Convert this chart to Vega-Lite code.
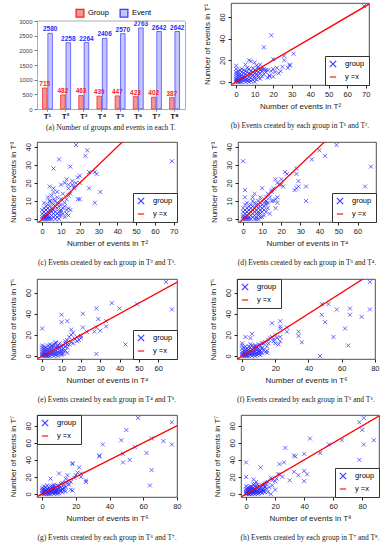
{
"$schema":"https://vega.github.io/schema/vega-lite/v6.json",
"padding":{"left":8,"top":2,"right":2,"bottom":0},
"config":{
 "font":"Liberation Sans",
 "view":{"stroke":"#222","strokeWidth":0.8},
 "axis":{"grid":false,"domain":false,"tickColor":"#222","tickSize":3,"labelFontSize":7.5,"labelColor":"#222","titleFontSize":8,"titleFontWeight":"normal","titleColor":"#222","labelPadding":2,"titlePadding":5,"labelOverlap":false,"labelFlush":false},
 "axisY":{"titlePadding":7},
 "title":{"font":"Liberation Serif","fontSize":7.5,"fontWeight":"normal","orient":"bottom","offset":11,"color":"#222"},
 "legend":{"orient":"bottom-right","offset":0,"strokeColor":"#333","fillColor":"white","padding":4,"labelFontSize":7.5,"symbolSize":40,"rowPadding":3,"symbolStrokeWidth":1.3,"labelOffset":8}
},
"resolve":{"scale":{"color":"independent","shape":"independent","stroke":"independent"},"legend":{"color":"independent","shape":"independent","stroke":"independent"}},
"spacing":8,
"datasets":{
 "diag":[{"x":-10,"y":-10},{"x":120,"y":120}],
 "top":[{"v":3000}],
 "bars":[{"t":"T¹","k":"Group","v":715},{"t":"T¹","k":"Event","v":2580},{"t":"T²","k":"Group","v":482},{"t":"T²","k":"Event","v":2258},{"t":"T³","k":"Group","v":463},{"t":"T³","k":"Event","v":2264},{"t":"T⁴","k":"Group","v":439},{"t":"T⁴","k":"Event","v":2406},{"t":"T⁵","k":"Group","v":447},{"t":"T⁵","k":"Event","v":2570},{"t":"T⁶","k":"Group","v":423},{"t":"T⁶","k":"Event","v":2763},{"t":"T⁷","k":"Group","v":402},{"t":"T⁷","k":"Event","v":2642},{"t":"T⁸","k":"Group","v":387},{"t":"T⁸","k":"Event","v":2642}],
 "b":[{"x":0,"y":0},{"x":0,"y":1},{"x":0,"y":2},{"x":0,"y":3},{"x":0,"y":5},{"x":0,"y":7},{"x":0,"y":9},{"x":0,"y":12},{"x":0,"y":15},{"x":1,"y":0},{"x":1,"y":1},{"x":1,"y":2},{"x":1,"y":4},{"x":1,"y":6},{"x":1,"y":8},{"x":1,"y":10},{"x":2,"y":0},{"x":2,"y":1},{"x":2,"y":3},{"x":2,"y":5},{"x":2,"y":7},{"x":2,"y":11},{"x":3,"y":0},{"x":3,"y":2},{"x":3,"y":4},{"x":3,"y":6},{"x":3,"y":9},{"x":3,"y":12},{"x":4,"y":1},{"x":4,"y":3},{"x":4,"y":5},{"x":4,"y":8},{"x":4,"y":11},{"x":5,"y":0},{"x":5,"y":2},{"x":5,"y":4},{"x":5,"y":7},{"x":5,"y":10},{"x":5,"y":16},{"x":6,"y":1},{"x":6,"y":3},{"x":6,"y":6},{"x":6,"y":9},{"x":6,"y":13},{"x":7,"y":0},{"x":7,"y":2},{"x":7,"y":5},{"x":7,"y":8},{"x":7,"y":12},{"x":7,"y":20},{"x":8,"y":1},{"x":8,"y":4},{"x":8,"y":7},{"x":8,"y":10},{"x":8,"y":19},{"x":9,"y":2},{"x":9,"y":6},{"x":9,"y":9},{"x":9,"y":13},{"x":10,"y":0},{"x":10,"y":3},{"x":10,"y":5},{"x":10,"y":8},{"x":10,"y":11},{"x":11,"y":2},{"x":11,"y":7},{"x":11,"y":10},{"x":11,"y":15},{"x":12,"y":4},{"x":12,"y":6},{"x":12,"y":9},{"x":12,"y":12},{"x":13,"y":3},{"x":13,"y":8},{"x":13,"y":11},{"x":14,"y":5},{"x":14,"y":10},{"x":15,"y":7},{"x":15,"y":12},{"x":16,"y":9},{"x":17,"y":11},{"x":18,"y":6},{"x":19,"y":10},{"x":20,"y":5},{"x":69,"y":70},{"x":19,"y":43},{"x":15,"y":32},{"x":31,"y":26},{"x":20,"y":21},{"x":26,"y":24},{"x":26,"y":20},{"x":29,"y":16},{"x":29,"y":15},{"x":28,"y":13},{"x":25,"y":14},{"x":23,"y":8},{"x":18,"y":5},{"x":17,"y":4},{"x":14,"y":12},{"x":12,"y":14},{"x":10,"y":18},{"x":13,"y":16},{"x":16,"y":11},{"x":20,"y":12},{"x":22,"y":13},{"x":24,"y":10},{"x":21,"y":9}],
 "c":[{"x":0,"y":0},{"x":0,"y":1},{"x":0,"y":3},{"x":0,"y":5},{"x":1,"y":0},{"x":1,"y":1},{"x":1,"y":2},{"x":1,"y":4},{"x":1,"y":6},{"x":1,"y":9},{"x":2,"y":0},{"x":2,"y":1},{"x":2,"y":2},{"x":2,"y":3},{"x":2,"y":5},{"x":2,"y":7},{"x":3,"y":0},{"x":3,"y":1},{"x":3,"y":2},{"x":3,"y":4},{"x":3,"y":6},{"x":3,"y":8},{"x":4,"y":0},{"x":4,"y":1},{"x":4,"y":3},{"x":4,"y":5},{"x":4,"y":7},{"x":4,"y":10},{"x":5,"y":0},{"x":5,"y":2},{"x":5,"y":4},{"x":5,"y":6},{"x":5,"y":9},{"x":6,"y":1},{"x":6,"y":3},{"x":6,"y":5},{"x":6,"y":8},{"x":6,"y":11},{"x":7,"y":0},{"x":7,"y":2},{"x":7,"y":4},{"x":7,"y":7},{"x":7,"y":10},{"x":8,"y":1},{"x":8,"y":3},{"x":8,"y":6},{"x":8,"y":9},{"x":8,"y":12},{"x":9,"y":0},{"x":9,"y":4},{"x":9,"y":7},{"x":10,"y":2},{"x":10,"y":5},{"x":10,"y":8},{"x":10,"y":11},{"x":11,"y":3},{"x":11,"y":6},{"x":12,"y":1},{"x":12,"y":9},{"x":13,"y":5},{"x":13,"y":11},{"x":14,"y":2},{"x":69,"y":32},{"x":18,"y":41},{"x":24,"y":38},{"x":23,"y":35},{"x":9,"y":33},{"x":6,"y":28},{"x":15,"y":29},{"x":28,"y":26},{"x":29,"y":25},{"x":25,"y":26},{"x":31,"y":15},{"x":25,"y":17},{"x":19,"y":11},{"x":20,"y":11},{"x":28,"y":9},{"x":13,"y":22},{"x":12,"y":20},{"x":10,"y":19},{"x":6,"y":17},{"x":4,"y":18},{"x":15,"y":14},{"x":16,"y":21},{"x":14,"y":19},{"x":17,"y":18},{"x":20,"y":20},{"x":19,"y":23},{"x":14,"y":13},{"x":11,"y":14},{"x":8,"y":15},{"x":6,"y":15},{"x":5,"y":13},{"x":3,"y":12},{"x":4,"y":10},{"x":14,"y":6},{"x":15,"y":5},{"x":13,"y":3},{"x":12,"y":7},{"x":9,"y":2},{"x":10,"y":4},{"x":20,"y":24},{"x":18,"y":20},{"x":14,"y":17},{"x":16,"y":19},{"x":17,"y":17}],
 "d":[{"x":0,"y":0},{"x":0,"y":1},{"x":0,"y":2},{"x":0,"y":4},{"x":0,"y":6},{"x":1,"y":0},{"x":1,"y":1},{"x":1,"y":3},{"x":1,"y":5},{"x":1,"y":8},{"x":2,"y":0},{"x":2,"y":1},{"x":2,"y":2},{"x":2,"y":4},{"x":2,"y":6},{"x":2,"y":9},{"x":3,"y":0},{"x":3,"y":1},{"x":3,"y":3},{"x":3,"y":5},{"x":3,"y":7},{"x":4,"y":0},{"x":4,"y":2},{"x":4,"y":4},{"x":4,"y":6},{"x":4,"y":8},{"x":5,"y":1},{"x":5,"y":3},{"x":5,"y":5},{"x":5,"y":7},{"x":5,"y":10},{"x":6,"y":0},{"x":6,"y":2},{"x":6,"y":4},{"x":6,"y":6},{"x":6,"y":9},{"x":7,"y":1},{"x":7,"y":3},{"x":7,"y":5},{"x":7,"y":8},{"x":8,"y":0},{"x":8,"y":2},{"x":8,"y":4},{"x":8,"y":6},{"x":8,"y":10},{"x":9,"y":3},{"x":9,"y":5},{"x":9,"y":7},{"x":10,"y":1},{"x":10,"y":6},{"x":10,"y":8},{"x":10,"y":10},{"x":11,"y":2},{"x":11,"y":7},{"x":12,"y":4},{"x":12,"y":9},{"x":13,"y":6},{"x":14,"y":3},{"x":0,"y":32},{"x":49,"y":41},{"x":40,"y":38},{"x":43,"y":35},{"x":36,"y":33},{"x":67,"y":29},{"x":64,"y":18},{"x":33,"y":18},{"x":33,"y":10},{"x":28,"y":28},{"x":28,"y":25},{"x":29,"y":21},{"x":27,"y":16},{"x":28,"y":17},{"x":29,"y":18},{"x":22,"y":26},{"x":23,"y":25},{"x":21,"y":18},{"x":20,"y":22},{"x":17,"y":22},{"x":18,"y":20},{"x":17,"y":6},{"x":18,"y":9},{"x":15,"y":15},{"x":16,"y":17},{"x":10,"y":17},{"x":1,"y":16},{"x":1,"y":12},{"x":15,"y":16},{"x":13,"y":14},{"x":12,"y":12},{"x":11,"y":11},{"x":12,"y":10},{"x":13,"y":9},{"x":14,"y":12},{"x":16,"y":10},{"x":17,"y":11},{"x":19,"y":19},{"x":20,"y":19},{"x":18,"y":12},{"x":15,"y":10},{"x":9,"y":9},{"x":8,"y":8},{"x":9,"y":12},{"x":6,"y":14},{"x":5,"y":12},{"x":7,"y":7},{"x":11,"y":5},{"x":12,"y":8},{"x":8,"y":3},{"x":10,"y":4},{"x":9,"y":1},{"x":7,"y":0}],
 "e":[{"x":0,"y":0},{"x":0,"y":1},{"x":0,"y":2},{"x":0,"y":4},{"x":0,"y":6},{"x":0,"y":8},{"x":0,"y":10},{"x":1,"y":0},{"x":1,"y":1},{"x":1,"y":3},{"x":1,"y":5},{"x":1,"y":7},{"x":1,"y":9},{"x":2,"y":0},{"x":2,"y":1},{"x":2,"y":2},{"x":2,"y":4},{"x":2,"y":6},{"x":2,"y":8},{"x":3,"y":0},{"x":3,"y":1},{"x":3,"y":3},{"x":3,"y":5},{"x":3,"y":7},{"x":3,"y":10},{"x":4,"y":0},{"x":4,"y":2},{"x":4,"y":4},{"x":4,"y":6},{"x":4,"y":8},{"x":4,"y":11},{"x":5,"y":1},{"x":5,"y":3},{"x":5,"y":5},{"x":5,"y":7},{"x":5,"y":10},{"x":6,"y":0},{"x":6,"y":2},{"x":6,"y":4},{"x":6,"y":6},{"x":6,"y":9},{"x":7,"y":1},{"x":7,"y":3},{"x":7,"y":5},{"x":7,"y":8},{"x":7,"y":12},{"x":8,"y":0},{"x":8,"y":2},{"x":8,"y":4},{"x":8,"y":7},{"x":8,"y":9},{"x":9,"y":3},{"x":9,"y":5},{"x":9,"y":8},{"x":10,"y":1},{"x":10,"y":4},{"x":10,"y":6},{"x":11,"y":2},{"x":11,"y":7},{"x":12,"y":5},{"x":12,"y":9},{"x":13,"y":3},{"x":13,"y":11},{"x":64,"y":70},{"x":67,"y":44},{"x":49,"y":49},{"x":40,"y":45},{"x":43,"y":11},{"x":36,"y":50},{"x":33,"y":33},{"x":33,"y":28},{"x":29,"y":35},{"x":28,"y":45},{"x":28,"y":2},{"x":30,"y":24},{"x":27,"y":23},{"x":28,"y":27},{"x":21,"y":27},{"x":21,"y":40},{"x":23,"y":23},{"x":10,"y":39},{"x":10,"y":32},{"x":13,"y":33},{"x":0,"y":26},{"x":15,"y":25},{"x":15,"y":20},{"x":18,"y":18},{"x":20,"y":17},{"x":13,"y":15},{"x":12,"y":12},{"x":16,"y":22},{"x":20,"y":19},{"x":14,"y":18},{"x":17,"y":16},{"x":19,"y":15},{"x":12,"y":14},{"x":11,"y":10},{"x":10,"y":9},{"x":14,"y":11},{"x":15,"y":13},{"x":9,"y":12},{"x":8,"y":10},{"x":7,"y":13},{"x":6,"y":11},{"x":5,"y":9},{"x":10,"y":2},{"x":11,"y":5},{"x":13,"y":8},{"x":16,"y":12},{"x":18,"y":14}],
 "f":[{"x":0,"y":0},{"x":0,"y":2},{"x":0,"y":4},{"x":0,"y":7},{"x":0,"y":10},{"x":0,"y":12},{"x":1,"y":0},{"x":1,"y":1},{"x":1,"y":3},{"x":1,"y":5},{"x":1,"y":8},{"x":2,"y":0},{"x":2,"y":1},{"x":2,"y":2},{"x":2,"y":4},{"x":2,"y":6},{"x":2,"y":9},{"x":3,"y":0},{"x":3,"y":1},{"x":3,"y":3},{"x":3,"y":5},{"x":3,"y":7},{"x":4,"y":0},{"x":4,"y":2},{"x":4,"y":4},{"x":4,"y":6},{"x":4,"y":9},{"x":5,"y":1},{"x":5,"y":3},{"x":5,"y":5},{"x":5,"y":8},{"x":5,"y":11},{"x":6,"y":0},{"x":6,"y":2},{"x":6,"y":4},{"x":6,"y":6},{"x":6,"y":10},{"x":7,"y":1},{"x":7,"y":3},{"x":7,"y":5},{"x":7,"y":7},{"x":8,"y":0},{"x":8,"y":2},{"x":8,"y":4},{"x":8,"y":6},{"x":8,"y":9},{"x":9,"y":1},{"x":9,"y":3},{"x":9,"y":6},{"x":10,"y":2},{"x":10,"y":4},{"x":10,"y":7},{"x":11,"y":1},{"x":11,"y":5},{"x":12,"y":3},{"x":12,"y":8},{"x":13,"y":6},{"x":14,"y":4},{"x":77,"y":70},{"x":77,"y":44},{"x":72,"y":37},{"x":65,"y":45},{"x":65,"y":39},{"x":57,"y":44},{"x":52,"y":49},{"x":48,"y":49},{"x":48,"y":39},{"x":50,"y":32},{"x":62,"y":26},{"x":55,"y":18},{"x":64,"y":10},{"x":47,"y":0},{"x":34,"y":23},{"x":34,"y":19},{"x":36,"y":13},{"x":27,"y":27},{"x":27,"y":23},{"x":23,"y":33},{"x":23,"y":28},{"x":23,"y":26},{"x":23,"y":18},{"x":23,"y":14},{"x":22,"y":11},{"x":18,"y":31},{"x":19,"y":16},{"x":2,"y":18},{"x":5,"y":17},{"x":6,"y":21},{"x":15,"y":5},{"x":15,"y":3},{"x":20,"y":20},{"x":18,"y":18},{"x":17,"y":17},{"x":16,"y":15},{"x":14,"y":13},{"x":13,"y":12},{"x":12,"y":12},{"x":11,"y":10},{"x":10,"y":11},{"x":15,"y":9},{"x":12,"y":7},{"x":9,"y":8},{"x":8,"y":10},{"x":7,"y":9},{"x":10,"y":5},{"x":11,"y":3},{"x":16,"y":12},{"x":19,"y":14},{"x":21,"y":17},{"x":20,"y":12}],
 "g":[{"x":0,"y":0},{"x":0,"y":1},{"x":0,"y":3},{"x":0,"y":5},{"x":0,"y":7},{"x":1,"y":0},{"x":1,"y":2},{"x":1,"y":4},{"x":1,"y":6},{"x":1,"y":9},{"x":2,"y":0},{"x":2,"y":1},{"x":2,"y":3},{"x":2,"y":5},{"x":2,"y":8},{"x":3,"y":0},{"x":3,"y":2},{"x":3,"y":4},{"x":3,"y":6},{"x":3,"y":10},{"x":4,"y":0},{"x":4,"y":1},{"x":4,"y":3},{"x":4,"y":5},{"x":4,"y":7},{"x":5,"y":0},{"x":5,"y":2},{"x":5,"y":4},{"x":5,"y":6},{"x":5,"y":9},{"x":6,"y":1},{"x":6,"y":3},{"x":6,"y":5},{"x":6,"y":7},{"x":7,"y":0},{"x":7,"y":2},{"x":7,"y":4},{"x":7,"y":6},{"x":7,"y":9},{"x":8,"y":1},{"x":8,"y":3},{"x":8,"y":5},{"x":8,"y":7},{"x":9,"y":0},{"x":9,"y":2},{"x":9,"y":6},{"x":10,"y":1},{"x":10,"y":4},{"x":10,"y":7},{"x":11,"y":3},{"x":11,"y":8},{"x":12,"y":2},{"x":12,"y":5},{"x":13,"y":4},{"x":13,"y":7},{"x":14,"y":3},{"x":57,"y":89},{"x":77,"y":84},{"x":50,"y":75},{"x":47,"y":63},{"x":36,"y":58},{"x":52,"y":40},{"x":48,"y":37},{"x":62,"y":48},{"x":55,"y":55},{"x":48,"y":47},{"x":65,"y":65},{"x":72,"y":62},{"x":77,"y":58},{"x":65,"y":28},{"x":64,"y":10},{"x":34,"y":44},{"x":34,"y":45},{"x":18,"y":36},{"x":18,"y":35},{"x":22,"y":31},{"x":21,"y":25},{"x":23,"y":24},{"x":23,"y":20},{"x":26,"y":16},{"x":26,"y":14},{"x":18,"y":4},{"x":17,"y":5},{"x":14,"y":18},{"x":15,"y":22},{"x":10,"y":24},{"x":5,"y":18},{"x":20,"y":22},{"x":19,"y":19},{"x":16,"y":16},{"x":14,"y":14},{"x":12,"y":13},{"x":11,"y":12},{"x":13,"y":10},{"x":15,"y":12},{"x":10,"y":9},{"x":9,"y":10},{"x":8,"y":8},{"x":12,"y":6},{"x":11,"y":4},{"x":14,"y":8},{"x":16,"y":11},{"x":17,"y":14},{"x":7,"y":11},{"x":6,"y":9},{"x":9,"y":4},{"x":8,"y":2}],
 "h":[{"x":0,"y":0},{"x":0,"y":1},{"x":0,"y":2},{"x":0,"y":4},{"x":0,"y":6},{"x":0,"y":9},{"x":1,"y":0},{"x":1,"y":1},{"x":1,"y":3},{"x":1,"y":5},{"x":1,"y":7},{"x":2,"y":0},{"x":2,"y":2},{"x":2,"y":4},{"x":2,"y":6},{"x":2,"y":8},{"x":3,"y":0},{"x":3,"y":1},{"x":3,"y":3},{"x":3,"y":5},{"x":3,"y":9},{"x":4,"y":0},{"x":4,"y":2},{"x":4,"y":4},{"x":4,"y":6},{"x":4,"y":8},{"x":5,"y":1},{"x":5,"y":3},{"x":5,"y":5},{"x":5,"y":7},{"x":5,"y":11},{"x":6,"y":0},{"x":6,"y":2},{"x":6,"y":4},{"x":6,"y":6},{"x":6,"y":9},{"x":7,"y":1},{"x":7,"y":3},{"x":7,"y":5},{"x":7,"y":8},{"x":8,"y":0},{"x":8,"y":2},{"x":8,"y":4},{"x":8,"y":7},{"x":9,"y":1},{"x":9,"y":3},{"x":9,"y":6},{"x":10,"y":2},{"x":10,"y":5},{"x":10,"y":7},{"x":11,"y":1},{"x":11,"y":4},{"x":12,"y":3},{"x":12,"y":6},{"x":13,"y":2},{"x":13,"y":8},{"x":81,"y":89},{"x":78,"y":84},{"x":80,"y":75},{"x":88,"y":63},{"x":81,"y":58},{"x":78,"y":40},{"x":66,"y":63},{"x":57,"y":58},{"x":44,"y":65},{"x":51,"y":48},{"x":40,"y":47},{"x":33,"y":45},{"x":34,"y":44},{"x":27,"y":54},{"x":23,"y":35},{"x":26,"y":37},{"x":33,"y":26},{"x":36,"y":22},{"x":40,"y":27},{"x":42,"y":23},{"x":40,"y":15},{"x":30,"y":16},{"x":25,"y":20},{"x":23,"y":23},{"x":22,"y":23},{"x":18,"y":10},{"x":17,"y":0},{"x":20,"y":5},{"x":10,"y":31},{"x":0,"y":37},{"x":0,"y":20},{"x":5,"y":17},{"x":21,"y":18},{"x":20,"y":15},{"x":18,"y":16},{"x":17,"y":19},{"x":15,"y":14},{"x":14,"y":13},{"x":13,"y":12},{"x":12,"y":11},{"x":13,"y":9},{"x":11,"y":10},{"x":10,"y":8},{"x":14,"y":6},{"x":12,"y":4},{"x":9,"y":9},{"x":8,"y":11},{"x":7,"y":14},{"x":6,"y":12},{"x":15,"y":2},{"x":16,"y":8}]
},
"vconcat":[
 {"resolve":{"scale":{"color":"independent","shape":"independent","stroke":"independent"},"legend":{"color":"independent","shape":"independent","stroke":"independent"}},
  "spacing":16,
  "hconcat":[
  {"width":148,"height":106,"title":{"text":"(a) Number of groups and events in each T.","offset":4},
   "view":{"stroke":null},
   "resolve":{"axis":{"y":"independent"}},
   "layer":[
    {"data":{"name":"bars"},"mark":{"type":"bar","strokeWidth":0.7},
     "encoding":{"x":{"field":"t","type":"nominal","sort":null,"scale":{"paddingInner":0.45,"paddingOuter":0.3},"axis":{"title":null,"labelAngle":0,"labelFontWeight":"bold","labelFontSize":8,"tickSize":2,"labelPadding":1,"tickColor":"#777","domain":true,"domainColor":"#999","domainWidth":0.8}},
      "xOffset":{"field":"k","type":"nominal","sort":["Group","Event"],"scale":{"paddingInner":0.15}},
      "y":{"field":"v","type":"quantitative","scale":{"domain":[0,3000],"nice":false,"range":[106,18]},"axis":{"title":null,"values":[0,500,1000,1500,2000,2500,3000],"tickCount":20,"format":"d","labelFontSize":6,"labelColor":"#444","tickColor":"#777","domain":true,"domainColor":"#999","domainWidth":0.8,"titlePadding":3}},
      "color":{"field":"k","type":"nominal","scale":{"domain":["Group","Event"],"range":["#f49494","#c4c4ff"]},"legend":{"title":null,"orient":"none","legendX":38,"legendY":5,"direction":"horizontal","strokeColor":"transparent","fillColor":"transparent","symbolType":"square","symbolSize":60,"labelOffset":3,"padding":0,"columnPadding":8}},
      "stroke":{"field":"k","type":"nominal","scale":{"domain":["Group","Event"],"range":["#ee2222","#3a3aff"]},"legend":{"title":null,"orient":"none","legendX":38,"legendY":5,"direction":"horizontal","strokeColor":"transparent","fillColor":"transparent","symbolType":"square","symbolSize":60,"labelOffset":3,"padding":0,"columnPadding":8}}}},
    {"data":{"name":"bars"},"mark":{"type":"text","dy":-4,"fontSize":6.5,"fontWeight":"bold"},
     "encoding":{"x":{"field":"t","type":"nominal","sort":null},
      "xOffset":{"field":"k","type":"nominal","sort":["Group","Event"]},
      "y":{"field":"v","type":"quantitative","axis":{"orient":"right","labels":false,"ticks":false,"title":null,"domain":true,"domainColor":"#999","domainWidth":0.8}},
      "text":{"field":"v","type":"quantitative"},
      "color":{"condition":{"test":"datum.k==='Group'","value":"#ff2020"},"value":"#2a2aff"}}},
    {"data":{"name":"top"},"mark":{"type":"rule","color":"#999","strokeWidth":0.8},
     "encoding":{"y":{"field":"v","type":"quantitative","axis":null}}}
   ]},
  {"width":138,"height":82,"title":"(b) Events created by each group in T¹ and T².",
   "layer":[
    {"data":{"name":"b"},"mark":{"type":"point","filled":false,"size":16,"strokeWidth":0.8,"opacity":0.85,"clip":true},
     "encoding":{"x":{"field":"x","type":"quantitative","scale":{"domain":[-2.76,71.76],"nice":false,"zero":false},"axis":{"title":"Number of events in T²","values":[0,10,20,30,40,50,60,70],"tickCount":20}},
      "y":{"field":"y","type":"quantitative","scale":{"domain":[-2.8,72.8],"nice":false,"zero":false},"axis":{"title":"Number of events in T¹","values":[0,20,40,60],"tickCount":20,"labelAngle":-90}},
      "color":{"datum":"group","scale":{"domain":["group","y =x"],"range":["#2222ff","#ff0000"]},"legend":{"title":null,"orient":"bottom-right"}},
      "shape":{"datum":"group","scale":{"domain":["group","y =x"],"range":["M-1,-1L1,1M1,-1L-1,1","stroke"]},"legend":{"title":null,"orient":"bottom-right"}}}},
    {"data":{"name":"diag"},"mark":{"type":"line","color":"#ff0000","strokeWidth":1.3,"clip":true},"encoding":{"x":{"field":"x","type":"quantitative"},"y":{"field":"y","type":"quantitative"}}}
   ]}
 ]},
 {"resolve":{"scale":{"color":"independent","shape":"independent"},"legend":{"color":"independent","shape":"independent"}},
  "spacing":10,
  "vconcat":[
 {"resolve":{"scale":{"color":"independent","shape":"independent"},"legend":{"color":"independent","shape":"independent"}},
  "spacing":30,
  "hconcat":[
  {"width":140,"height":80,"title":"(c) Events created by each group in T² and T³.",
   "layer":[
    {"data":{"name":"c"},"mark":{"type":"point","filled":false,"size":16,"strokeWidth":0.8,"opacity":0.85,"clip":true},
     "encoding":{"x":{"field":"x","type":"quantitative","scale":{"domain":[-2.76,71.76],"nice":false,"zero":false},"axis":{"title":"Number of events in T²","values":[0,10,20,30,40,50,60,70],"tickCount":20}},
      "y":{"field":"y","type":"quantitative","scale":{"domain":[-1.64,42.64],"nice":false,"zero":false},"axis":{"title":"Number of events in T³","values":[0,10,20,30,40],"tickCount":20,"labelAngle":-90}},
      "color":{"datum":"group","scale":{"domain":["group","y =x"],"range":["#2222ff","#ff0000"]},"legend":{"title":null,"orient":"bottom-right"}},
      "shape":{"datum":"group","scale":{"domain":["group","y =x"],"range":["M-1,-1L1,1M1,-1L-1,1","stroke"]},"legend":{"title":null,"orient":"bottom-right"}}}},
    {"data":{"name":"diag"},"mark":{"type":"line","color":"#ff0000","strokeWidth":1.3,"clip":true},"encoding":{"x":{"field":"x","type":"quantitative"},"y":{"field":"y","type":"quantitative"}}}
   ]},
  {"width":138,"height":80,"title":"(d) Events created by each group in T³ and T⁴.",
   "layer":[
    {"data":{"name":"d"},"mark":{"type":"point","filled":false,"size":16,"strokeWidth":0.8,"opacity":0.85,"clip":true},
     "encoding":{"x":{"field":"x","type":"quantitative","scale":{"domain":[-2.68,69.68],"nice":false,"zero":false},"axis":{"title":"Number of events in T⁴","values":[0,10,20,30,40,50,60],"tickCount":20}},
      "y":{"field":"y","type":"quantitative","scale":{"domain":[-1.64,42.64],"nice":false,"zero":false},"axis":{"title":"Number of events in T³","values":[0,10,20,30,40],"tickCount":20,"labelAngle":-90}},
      "color":{"datum":"group","scale":{"domain":["group","y =x"],"range":["#2222ff","#ff0000"]},"legend":{"title":null,"orient":"bottom-right"}},
      "shape":{"datum":"group","scale":{"domain":["group","y =x"],"range":["M-1,-1L1,1M1,-1L-1,1","stroke"]},"legend":{"title":null,"orient":"bottom-right"}}}},
    {"data":{"name":"diag"},"mark":{"type":"line","color":"#ff0000","strokeWidth":1.3,"clip":true},"encoding":{"x":{"field":"x","type":"quantitative"},"y":{"field":"y","type":"quantitative"}}}
   ]}
 ]},
 {"resolve":{"scale":{"color":"independent","shape":"independent"},"legend":{"color":"independent","shape":"independent"}},
  "spacing":30,
  "hconcat":[
  {"width":140,"height":80,"title":"(e) Events created by each group in T⁴ and T⁵.",
   "layer":[
    {"data":{"name":"e"},"mark":{"type":"point","filled":false,"size":16,"strokeWidth":0.8,"opacity":0.85,"clip":true},
     "encoding":{"x":{"field":"x","type":"quantitative","scale":{"domain":[-2.68,69.68],"nice":false,"zero":false},"axis":{"title":"Number of events in T⁴","values":[0,10,20,30,40,50,60],"tickCount":20}},
      "y":{"field":"y","type":"quantitative","scale":{"domain":[-2.8,72.8],"nice":false,"zero":false},"axis":{"title":"Number of events in T⁵","values":[0,20,40,60],"tickCount":20,"labelAngle":-90}},
      "color":{"datum":"group","scale":{"domain":["group","y =x"],"range":["#2222ff","#ff0000"]},"legend":{"title":null,"orient":"bottom-right"}},
      "shape":{"datum":"group","scale":{"domain":["group","y =x"],"range":["M-1,-1L1,1M1,-1L-1,1","stroke"]},"legend":{"title":null,"orient":"bottom-right"}}}},
    {"data":{"name":"diag"},"mark":{"type":"line","color":"#ff0000","strokeWidth":1.3,"clip":true},"encoding":{"x":{"field":"x","type":"quantitative"},"y":{"field":"y","type":"quantitative"}}}
   ]},
  {"width":138,"height":80,"title":"(f) Events created by each group in T⁵ and T⁶.",
   "layer":[
    {"data":{"name":"f"},"mark":{"type":"point","filled":false,"size":16,"strokeWidth":0.8,"opacity":0.85,"clip":true},
     "encoding":{"x":{"field":"x","type":"quantitative","scale":{"domain":[-3.08,80.08],"nice":false,"zero":false},"axis":{"title":"Number of events in T⁶","values":[0,20,40,60,80],"tickCount":20}},
      "y":{"field":"y","type":"quantitative","scale":{"domain":[-2.8,72.8],"nice":false,"zero":false},"axis":{"title":"Number of events in T⁵","values":[0,20,40,60],"tickCount":20,"labelAngle":-90}},
      "color":{"datum":"group","scale":{"domain":["group","y =x"],"range":["#2222ff","#ff0000"]},"legend":{"title":null,"orient":"top-left"}},
      "shape":{"datum":"group","scale":{"domain":["group","y =x"],"range":["M-1,-1L1,1M1,-1L-1,1","stroke"]},"legend":{"title":null,"orient":"top-left"}}}},
    {"data":{"name":"diag"},"mark":{"type":"line","color":"#ff0000","strokeWidth":1.3,"clip":true},"encoding":{"x":{"field":"x","type":"quantitative"},"y":{"field":"y","type":"quantitative"}}}
   ]}
 ]},
 {"resolve":{"scale":{"color":"independent","shape":"independent"},"legend":{"color":"independent","shape":"independent"}},
  "spacing":30,
  "hconcat":[
  {"width":140,"height":82,"title":"(g) Events created by each group in T⁶ and T⁷.",
   "layer":[
    {"data":{"name":"g"},"mark":{"type":"point","filled":false,"size":16,"strokeWidth":0.8,"opacity":0.85,"clip":true},
     "encoding":{"x":{"field":"x","type":"quantitative","scale":{"domain":[-3.08,80.08],"nice":false,"zero":false},"axis":{"title":"Number of events in T⁶","values":[0,20,40,60,80],"tickCount":20}},
      "y":{"field":"y","type":"quantitative","scale":{"domain":[-3.56,92.56],"nice":false,"zero":false},"axis":{"title":"Number of events in T⁷","values":[0,20,40,60,80],"tickCount":20,"labelAngle":-90}},
      "color":{"datum":"group","scale":{"domain":["group","y =x"],"range":["#2222ff","#ff0000"]},"legend":{"title":null,"orient":"top-left"}},
      "shape":{"datum":"group","scale":{"domain":["group","y =x"],"range":["M-1,-1L1,1M1,-1L-1,1","stroke"]},"legend":{"title":null,"orient":"top-left"}}}},
    {"data":{"name":"diag"},"mark":{"type":"line","color":"#ff0000","strokeWidth":1.3,"clip":true},"encoding":{"x":{"field":"x","type":"quantitative"},"y":{"field":"y","type":"quantitative"}}}
   ]},
  {"width":138,"height":82,"title":"(h) Events created by each group in T⁷ and T⁸.",
   "layer":[
    {"data":{"name":"h"},"mark":{"type":"point","filled":false,"size":16,"strokeWidth":0.8,"opacity":0.85,"clip":true},
     "encoding":{"x":{"field":"x","type":"quantitative","scale":{"domain":[-3.52,91.52],"nice":false,"zero":false},"axis":{"title":"Number of events in T⁸","values":[0,20,40,60,80],"tickCount":20}},
      "y":{"field":"y","type":"quantitative","scale":{"domain":[-3.56,92.56],"nice":false,"zero":false},"axis":{"title":"Number of events in T⁷","values":[0,20,40,60,80],"tickCount":20,"labelAngle":-90}},
      "color":{"datum":"group","scale":{"domain":["group","y =x"],"range":["#2222ff","#ff0000"]},"legend":{"title":null,"orient":"bottom-right"}},
      "shape":{"datum":"group","scale":{"domain":["group","y =x"],"range":["M-1,-1L1,1M1,-1L-1,1","stroke"]},"legend":{"title":null,"orient":"bottom-right"}}}},
    {"data":{"name":"diag"},"mark":{"type":"line","color":"#ff0000","strokeWidth":1.3,"clip":true},"encoding":{"x":{"field":"x","type":"quantitative"},"y":{"field":"y","type":"quantitative"}}}
   ]}
 ]}
 ]}
]
}
